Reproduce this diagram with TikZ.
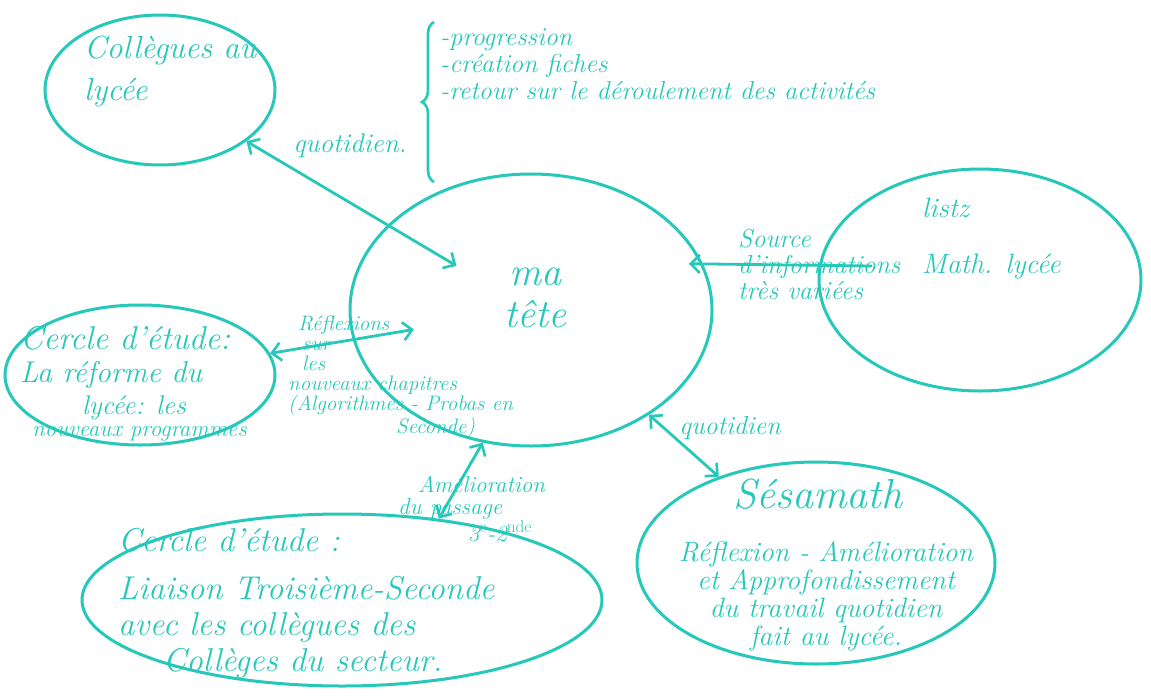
\documentclass[tikz,border=0pt]{standalone}
\usetikzlibrary{arrows.meta,shapes.geometric,decorations.pathreplacing}
\definecolor{ink}{RGB}{38,200,186}
\newcommand{\handfont}[2]{\fontsize{#1}{#2}\selectfont\itshape}
\begin{document}
\begin{tikzpicture}[x=1pt,y=-1pt,
  bub/.style={ellipse,draw=ink,line width=3pt,inner sep=0pt},
  hand/.style={text=ink,inner sep=0pt},
  barb/.tip={Straight Barb[length=9pt,width=18pt,line width=2.6pt]},
  link/.style={draw=ink,line width=2.8pt,barb-barb},
  onelink/.style={draw=ink,line width=2.8pt,-barb}]
\useasboundingbox[fill=white] (0,0) rectangle (1151,696);
% bubbles
\node[bub,minimum width=230pt,minimum height=150pt] (coll) at (160,90) {};
\node[bub,minimum width=362pt,minimum height=272pt] (tete) at (531,310) {};
\node[bub,minimum width=322pt,minimum height=222pt] (listz) at (980,280) {};
\node[bub,minimum width=270pt,minimum height=140pt] (cerc1) at (140,375) {};
\node[bub,minimum width=520pt,minimum height=172pt] (cerc2) at (342,600) {};
\node[bub,minimum width=358pt,minimum height=202pt] (sesa) at (816,563) {};
% brace
\draw[ink,line width=2.6pt,decorate,decoration={brace,amplitude=12pt}] (434,182) -- (434,22);
% connectors
\draw[link,shorten >=-80pt] (coll) -- (tete);
\draw[link,shorten >=-62pt] (cerc1) -- (tete);
\draw[link] (tete) -- (sesa);
\draw[link] (tete.250) -- (cerc2.40);
\coordinate (src) at (872,266);
\draw[onelink,shorten >=-14pt] (src) -- (tete.15);
% texts
\node[hand,anchor=north west,align=left,font=\handfont{32}{42}] (tcoll) at (84,36) {Collègues au\\lycée};
\node[hand,anchor=north west,align=left,font=\handfont{26}{27}] (tlist) at (440,28) {-progression\\-création fiches\\-retour sur le déroulement des activités};
\node[hand,font=\handfont{27}{28}] (tq1) at (350,146) {quotidien.};
\node[hand,align=center,font=\handfont{40}{42}] (ttete) at (535,298) {ma\\tête};
\node[hand,anchor=west,align=left,font=\handfont{26}{26}] (tsrc) at (738,264) {Source\\d'informations\\très variées};
\node[hand,anchor=north west,align=left,font=\handfont{28}{56}] (tlistz) at (922,198) {listz\\Math. lycée};
\node[hand,anchor=north west,align=left,inner sep=0pt] (tcerc1) at (20,326) {\handfont{33}{26}Cercle d'étude:\\[10pt]\handfont{30}{26}La réforme du\\[6pt]\handfont{27}{26}\hspace*{62pt}lycée: les\\[6pt]\handfont{23}{26}\hspace*{12pt}nouveaux programmes};
\node[hand,anchor=north west,align=left,font=\handfont{21}{20}] (trefl) at (288,316) {\hspace*{10pt}Réflexions\\\hspace*{14pt}sur\\\hspace*{14pt}les\\nouveaux chapitres\\(Algorithmes - Probas en\\\hspace*{108pt}Seconde)};
\node[hand,anchor=north west,align=left,font=\handfont{23}{22}] (tamel) at (398,476) {\hspace*{20pt}Amélioration\\du passage\\\hspace*{70pt}3$^{\mathrm{e}}$-2$^{\mathrm{nde}}$};
\node[hand,font=\handfont{26}{26}] (tq2) at (730,428) {quotidien};
\node[hand,anchor=north west,align=left,font=\handfont{33}{36}] (tcerc2) at (118,528) {Cercle d'étude :\\[12pt]Liaison Troisième-Seconde\\avec les collègues des\\\hspace*{45pt}Collèges du secteur.};
\node[hand,font=\handfont{42}{42}] (tsesa) at (818,494) {Sésamath};
\node[hand,align=center,font=\handfont{28}{28}] (tsesa2) at (826,596) {Réflexion - Amélioration\\et Approfondissement\\du travail quotidien\\fait au lycée.};
\end{tikzpicture}
\end{document}
